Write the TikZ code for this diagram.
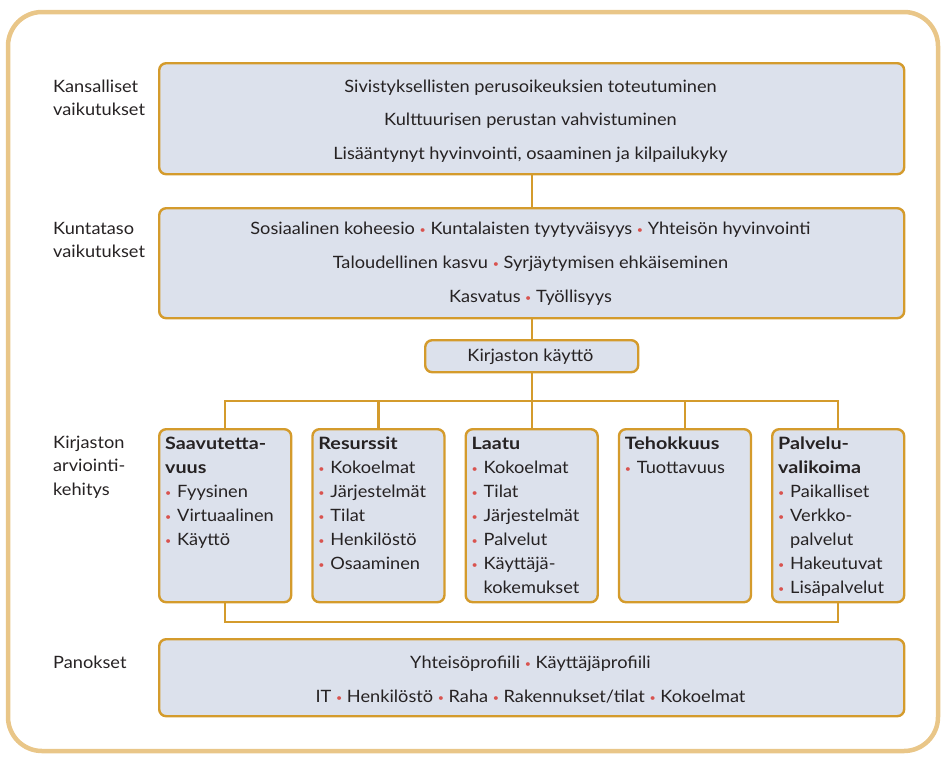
\documentclass[tikz,border=0pt]{standalone}
\usepackage{fontspec}
\usetikzlibrary{calc}
\setmainfont{Lato}[FakeStretch=1.07, BoldFeatures={FakeStretch=1.16}]
\definecolor{framec}{HTML}{E9C688}
\definecolor{boxline}{HTML}{D49B2C}
\definecolor{boxfill}{HTML}{DCE1EC}
\definecolor{txt}{HTML}{262223}
\definecolor{bulletred}{HTML}{D9534F}
\newcommand{\bul}{{\color{bulletred}\fontsize{10}{10}\selectfont\raisebox{0.5pt}{•}}}
\newcommand{\ib}{\makebox[12pt][l]{\bul}}
\newcommand{\ic}{\hspace*{12pt}}
\tikzset{
  every node/.style={font=\fontsize{17}{20}\selectfont, text=txt, inner sep=0pt},
  box/.style={draw=boxline, fill=boxfill, line width=2.4pt, rounded corners=7pt, anchor=north west},
  conn/.style={draw=boxline, line width=2.4pt},
  lbl/.style={anchor=base west, align=left},
}
\begin{document}
\begin{tikzpicture}[x=1pt,y=-1pt]
\useasboundingbox (0,0) rectangle (943,756);
\draw[framec, line width=4.5pt, rounded corners=34pt] (8,12) rectangle (938,751);

% big boxes
\node[box, minimum width=745pt, minimum height=111pt] (k1) at (158,62) {};
\node[box, minimum width=745pt, minimum height=110pt] (k2) at (158,207) {};
\node[box, minimum width=213pt, minimum height=32pt] (kk) at (424,339) {};
\node[box, minimum width=745pt, minimum height=77pt] (pk) at (158,638) {};

% small boxes
\node[box, minimum width=132pt, minimum height=173pt] (s1) at (158,428) {};
\node[box, minimum width=132pt, minimum height=173pt] (s2) at (311.25,428) {};
\node[box, minimum width=132pt, minimum height=173pt] (s3) at (464.5,428) {};
\node[box, minimum width=132pt, minimum height=173pt] (s4) at (617.75,428) {};
\node[box, minimum width=132pt, minimum height=173pt] (s5) at (771,428) {};

% connectors
\coordinate (bus) at (0,401);
\coordinate (bot) at (0,622);
\draw[conn] (k1.south) -- (k2.north);
\draw[conn] (k2.south) -- (kk.north);
\draw[conn] (kk.south) -- (kk.south |- bus);
\draw[conn] (s1.north) -- (s1.north |- bus) -- (s5.north |- bus) -- (s5.north);
\foreach \s in {s2,s3,s4} \draw[conn] (\s.north) -- (\s.north |- bus);
\draw[conn] (s1.south) -- (s1.south |- bot) -- (s5.south |- bot) -- (s5.south);

% left labels
\node[lbl] (l1) at (53,92) {\parbox[t]{100pt}{\setlength\baselineskip{23pt}Kansalliset\\vaikutukset}};
\node[lbl] (l2) at (53,234) {\parbox[t]{100pt}{\setlength\baselineskip{23pt}Kuntataso\\vaikutukset}};
\node[lbl] (l3) at (53,448) {\parbox[t]{100pt}{\setlength\baselineskip{23.5pt}Kirjaston\\arviointi-\\kehitys}};
\node[lbl] (l4) at (53,668) {Panokset};

% big box texts
\node[anchor=base] (t1) at (530.5,92) {\parbox[t]{740pt}{\centering\setlength\baselineskip{33.5pt}%
Sivistyksellisten perusoikeuksien toteutuminen\\
Kulttuurisen perustan vahvistuminen\\
Lisääntynyt hyvinvointi, osaaminen ja kilpailukyky}};
\node[anchor=base] (t2) at (530.5,234) {\parbox[t]{740pt}{\centering\setlength\baselineskip{34pt}%
Sosiaalinen koheesio \bul{} Kuntalaisten tyytyväisyys \bul{} Yhteisön hyvinvointi\\
Taloudellinen kasvu \bul{} Syrjäytymisen ehkäiseminen\\
Kasvatus \bul{} Työllisyys}};
\node[anchor=base] (tk) at (530.5,361) {Kirjaston käyttö};
\node[anchor=base] (tp) at (530.5,668) {\parbox[t]{740pt}{\centering\setlength\baselineskip{34pt}%
Yhteisöprofiili \bul{} Käyttäjäprofiili\\
IT \bul{} Henkilöstö \bul{} Raha \bul{} Rakennukset/tilat \bul{} Kokoelmat}};

% small box texts
\node[anchor=base west] (u1) at ($(s1.north west)+(7,21)$) {\parbox[t]{124pt}{\setlength\baselineskip{24pt}%
\textbf{Saavutetta-}\\\textbf{vuus}\\\ib Fyysinen\\\ib Virtuaalinen\\\ib Käyttö}};
\node[anchor=base west] (u2) at ($(s2.north west)+(7,21)$) {\parbox[t]{124pt}{\setlength\baselineskip{24pt}%
\textbf{Resurssit}\\\ib Kokoelmat\\\ib Järjestelmät\\\ib Tilat\\\ib Henkilöstö\\\ib Osaaminen}};
\node[anchor=base west] (u3) at ($(s3.north west)+(7,21)$) {\parbox[t]{124pt}{\setlength\baselineskip{24pt}%
\textbf{Laatu}\\\ib Kokoelmat\\\ib Tilat\\\ib Järjestelmät\\\ib Palvelut\\\ib Käyttäjä-\\\ic kokemukset}};
\node[anchor=base west] (u4) at ($(s4.north west)+(7,21)$) {\parbox[t]{124pt}{\setlength\baselineskip{24pt}%
\textbf{Tehokkuus}\\\ib Tuottavuus}};
\node[anchor=base west] (u5) at ($(s5.north west)+(7,21)$) {\parbox[t]{124pt}{\setlength\baselineskip{24pt}%
\textbf{Palvelu-}\\\textbf{valikoima}\\\ib Paikalliset\\\ib Verkko-\\\ic palvelut\\\ib Hakeutuvat\\\ib Lisäpalvelut}};
\end{tikzpicture}
\end{document}
